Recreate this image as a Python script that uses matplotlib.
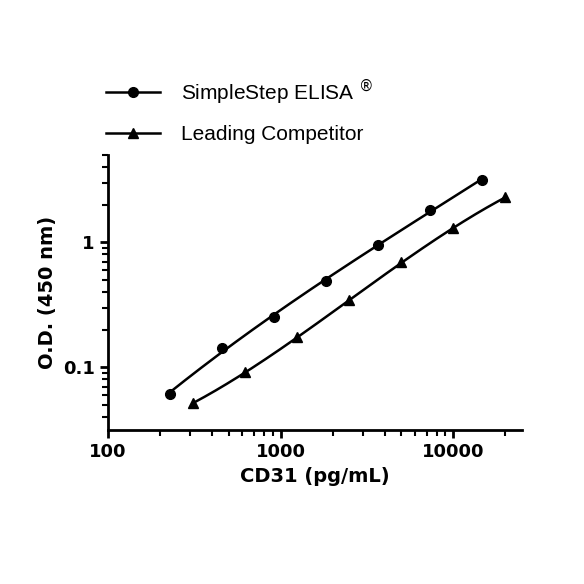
import matplotlib
matplotlib.use("Agg")
import matplotlib.pyplot as plt
import numpy as np

ss_x = [227, 455, 910, 1820, 3640, 7280, 14560]
ss_y = [0.061, 0.142, 0.251, 0.49, 0.95, 1.80, 3.13]
lc_x = [312.5, 625, 1250, 2500, 5000, 10000, 20000]
lc_y = [0.052, 0.091, 0.174, 0.344, 0.69, 1.29, 2.29]

fig = plt.figure(figsize=(5.84, 5.84), dpi=100)
ax = fig.add_axes([0.185, 0.264, 0.709, 0.471])

def fitline(x, y):
    lx, ly = np.log10(x), np.log10(y)
    c = np.polyfit(lx, ly, 3)
    xs = np.linspace(lx[0], lx[-1], 200)
    return 10**xs, 10**np.polyval(c, xs)

for x, y, m in [(ss_x, ss_y, 'o'), (lc_x, lc_y, '^')]:
    fx, fy = fitline(x, y)
    ax.plot(fx, fy, '-', color='black', lw=1.8)
    ax.plot(x, y, m, color='black', ms=7, ls='none')
# legend proxies
h1, = ax.plot([], [], '-o', color='black', ms=7, lw=1.8)
h2, = ax.plot([], [], '-^', color='black', ms=7, lw=1.8)

ax.set_xscale('log'); ax.set_yscale('log')
ax.set_xlim(100, 25000); ax.set_ylim(0.0316, 5)
ax.set_xticks([100, 1000, 10000]); ax.set_xticklabels(['100', '1000', '10000'])
ax.set_yticks([0.1, 1]); ax.set_yticklabels(['0.1', '1'])
ax.yaxis.set_minor_formatter(matplotlib.ticker.NullFormatter())
ax.xaxis.set_minor_formatter(matplotlib.ticker.NullFormatter())
for s in ['top', 'right']:
    ax.spines[s].set_visible(False)
for s in ['left', 'bottom']:
    ax.spines[s].set_linewidth(2)
ax.tick_params(which='major', width=2, length=6, labelsize=13)
ax.tick_params(which='minor', width=1.5, length=4)
for l in ax.get_xticklabels() + ax.get_yticklabels():
    l.set_fontweight('bold')
ax.set_xlabel('CD31 (pg/mL)', fontsize=14, fontweight='bold')
ax.set_ylabel('O.D. (450 nm)', fontsize=14, fontweight='bold')
ax.legend([h1, h2], ['SimpleStep ELISA $^{\\circledR}$', 'Leading Competitor'],
          loc='lower left', bbox_to_anchor=(-0.05, 0.97), frameon=False,
          prop={'family': 'Liberation Sans', 'size': 15}, handlelength=2.6,
          handletextpad=1.0, labelspacing=0.9)
fig.savefig('out.png', dpi=100)
